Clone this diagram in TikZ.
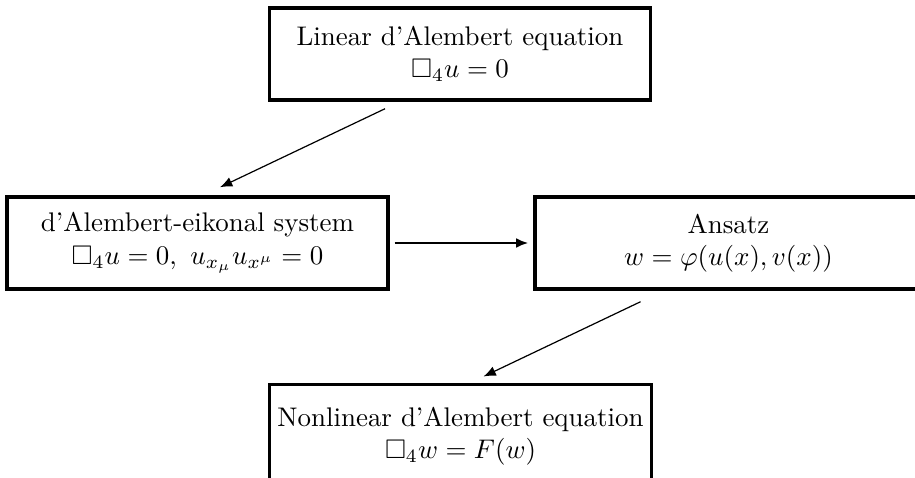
\documentclass[tikz,border=0pt]{standalone}
\usepackage{amsmath}
\usepackage{amssymb}
\usepackage{tikz}
\usetikzlibrary{positioning, arrows.meta, calc}
\tikzset{
  eqbox/.style = {rectangle, draw=black, line width=1.3pt, minimum width=4.97cm, minimum height=1.2cm, align=center, inner sep=3pt, fill=white},
  conn/.style  = {-{Latex[length=1.6mm, width=1.3mm]}, line width=0.45pt, draw=black},
  hconn/.style = {-{Latex[length=1.6mm, width=1.3mm]}, line width=0.9pt, draw=black},
}

\begin{document}
\begin{tikzpicture}[x=0.01305cm, y=-0.01305cm]
    \clip (0,0) rectangle (915,478);

    % linear equation
    \node[eqbox] (linear) at (460,54)
      {Linear d'Alembert equation\\ $\Box_4 u = 0$};

    % system and ansatz
    \node[eqbox] (system) at (197.5,243)
      {d'Alembert-eikonal system\\ $\Box_4 u = 0,\ u_{x_\mu}u_{x^\mu} = 0$};
    \node[eqbox, minimum width=5.05cm] (ansatz) at (728.5,243)
      {Ansatz\\ $w = \varphi(u(x),v(x))$};

    % nonlinear equation (runs off the bottom edge)
    \node[eqbox, minimum height=1.35cm] (nonlinear) at (460.5,436)
      {Nonlinear d'Alembert equation\\ $\Box_4 w = F(w)$};

    % edges
    \draw[conn] ($(linear.south)+(-75,7)$) -- ($(system.north)+(22.5,-8)$);
    \draw[hconn, shorten <=1.8pt, shorten >=1.8pt] (system.east) -- (ansatz.west);
    \draw[conn] ($(ansatz.south)+(-88,11)$) -- ($(nonlinear.north)+(23,-6)$);
  \end{tikzpicture}
\end{document}
